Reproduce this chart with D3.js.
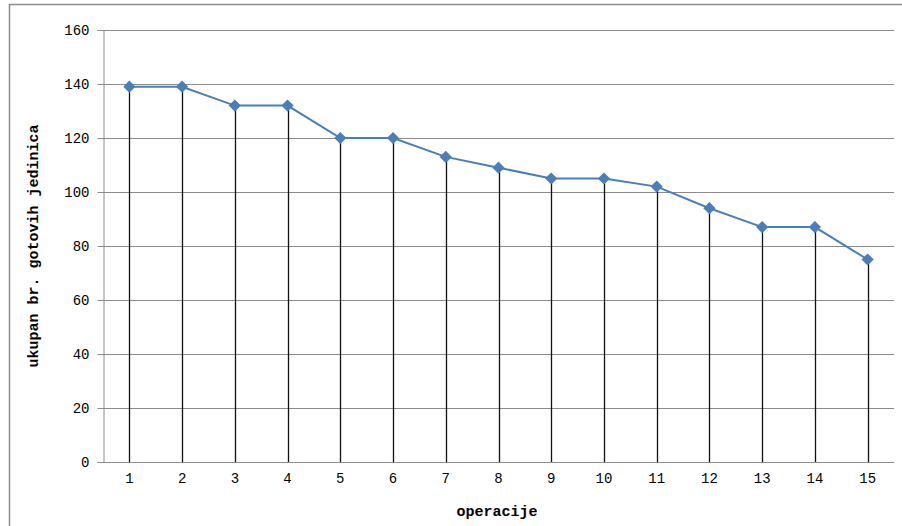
<!DOCTYPE html>
<html><head><meta charset="utf-8">
<script src="https://cdn.jsdelivr.net/npm/d3@7"></script>
<style>body{margin:0;background:#fff;}svg{display:block;}</style>
</head><body>
<svg id="c" width="902" height="526"></svg>
<script>
const categories = ["1","2","3","4","5","6","7","8","9","10","11","12","13","14","15"];
const values = [139,139,132,132,120,120,113,109,105,105,102,94,87,87,75];
const yTicks = [0,20,40,60,80,100,120,140,160];

const svg = d3.select("#c");
const m = {l:103, r:894, t:30, b:462};
const x = d3.scaleBand().domain(categories).range([m.l, m.r]);
const y = d3.scaleLinear().domain([0,160]).range([m.b, m.t]);

// outer frame
svg.append("path").attr("d","M9.5,526 V4.5 H902").attr("fill","none").attr("stroke","#8c8c8c").attr("stroke-width",1.5);

// gridlines
svg.append("g").selectAll("line").data(yTicks).join("line")
  .attr("x1",m.l).attr("x2",m.r).attr("y1",d=>Math.round(y(d))+0.5).attr("y2",d=>Math.round(y(d))+0.5)
  .attr("stroke","#8c8c8c").attr("stroke-width",1);

// y axis
const ya = svg.append("g").attr("transform",`translate(${m.l+0.5},0)`)
  .call(d3.axisLeft(y).tickValues(yTicks).tickSize(6).tickPadding(8));
ya.select(".domain").attr("stroke","#8c8c8c");
ya.selectAll(".tick line").attr("stroke","#8c8c8c");
ya.selectAll("text").attr("font-family","Liberation Mono, monospace").attr("font-size",14).attr("fill","#000");

// x axis
const xa = svg.append("g").attr("transform",`translate(0,${m.b+0.5})`)
  .call(d3.axisBottom(x).tickSize(0).tickPadding(11));
xa.select(".domain").remove();
xa.selectAll("text").attr("font-family","Liberation Mono, monospace").attr("font-size",14).attr("fill","#000");

// drop lines
svg.append("g").selectAll("line").data(values).join("line")
  .attr("x1",(d,i)=>Math.round(x(categories[i])+x.bandwidth()/2)+0.5)
  .attr("x2",(d,i)=>Math.round(x(categories[i])+x.bandwidth()/2)+0.5)
  .attr("y1",d=>y(d)).attr("y2",m.b)
  .attr("stroke","#111").attr("stroke-width",1.3);

// line
const line = d3.line().x((d,i)=>x(categories[i])+x.bandwidth()/2).y(d=>y(d));
svg.append("path").datum(values).attr("d",line).attr("fill","none")
  .attr("stroke","#4a7ebb").attr("stroke-width",2);

// markers
svg.append("g").selectAll("path").data(values).join("path")
  .attr("transform",(d,i)=>`translate(${x(categories[i])+x.bandwidth()/2},${y(d)})`)
  .attr("d",d3.symbol(d3.symbolDiamond2,95))
  .attr("fill","#4a7ebb");

// axis titles
svg.append("text").attr("x",497).attr("y",516).attr("text-anchor","middle")
  .attr("font-family","Liberation Mono, monospace").attr("font-weight","bold").attr("font-size",15)
  .text("operacije");
svg.append("text").attr("transform","translate(38,246) rotate(-90)").attr("text-anchor","middle")
  .attr("font-family","Liberation Mono, monospace").attr("font-weight","bold").attr("font-size",15)
  .text("ukupan br. gotovih jedinica");
</script>
</body></html>
